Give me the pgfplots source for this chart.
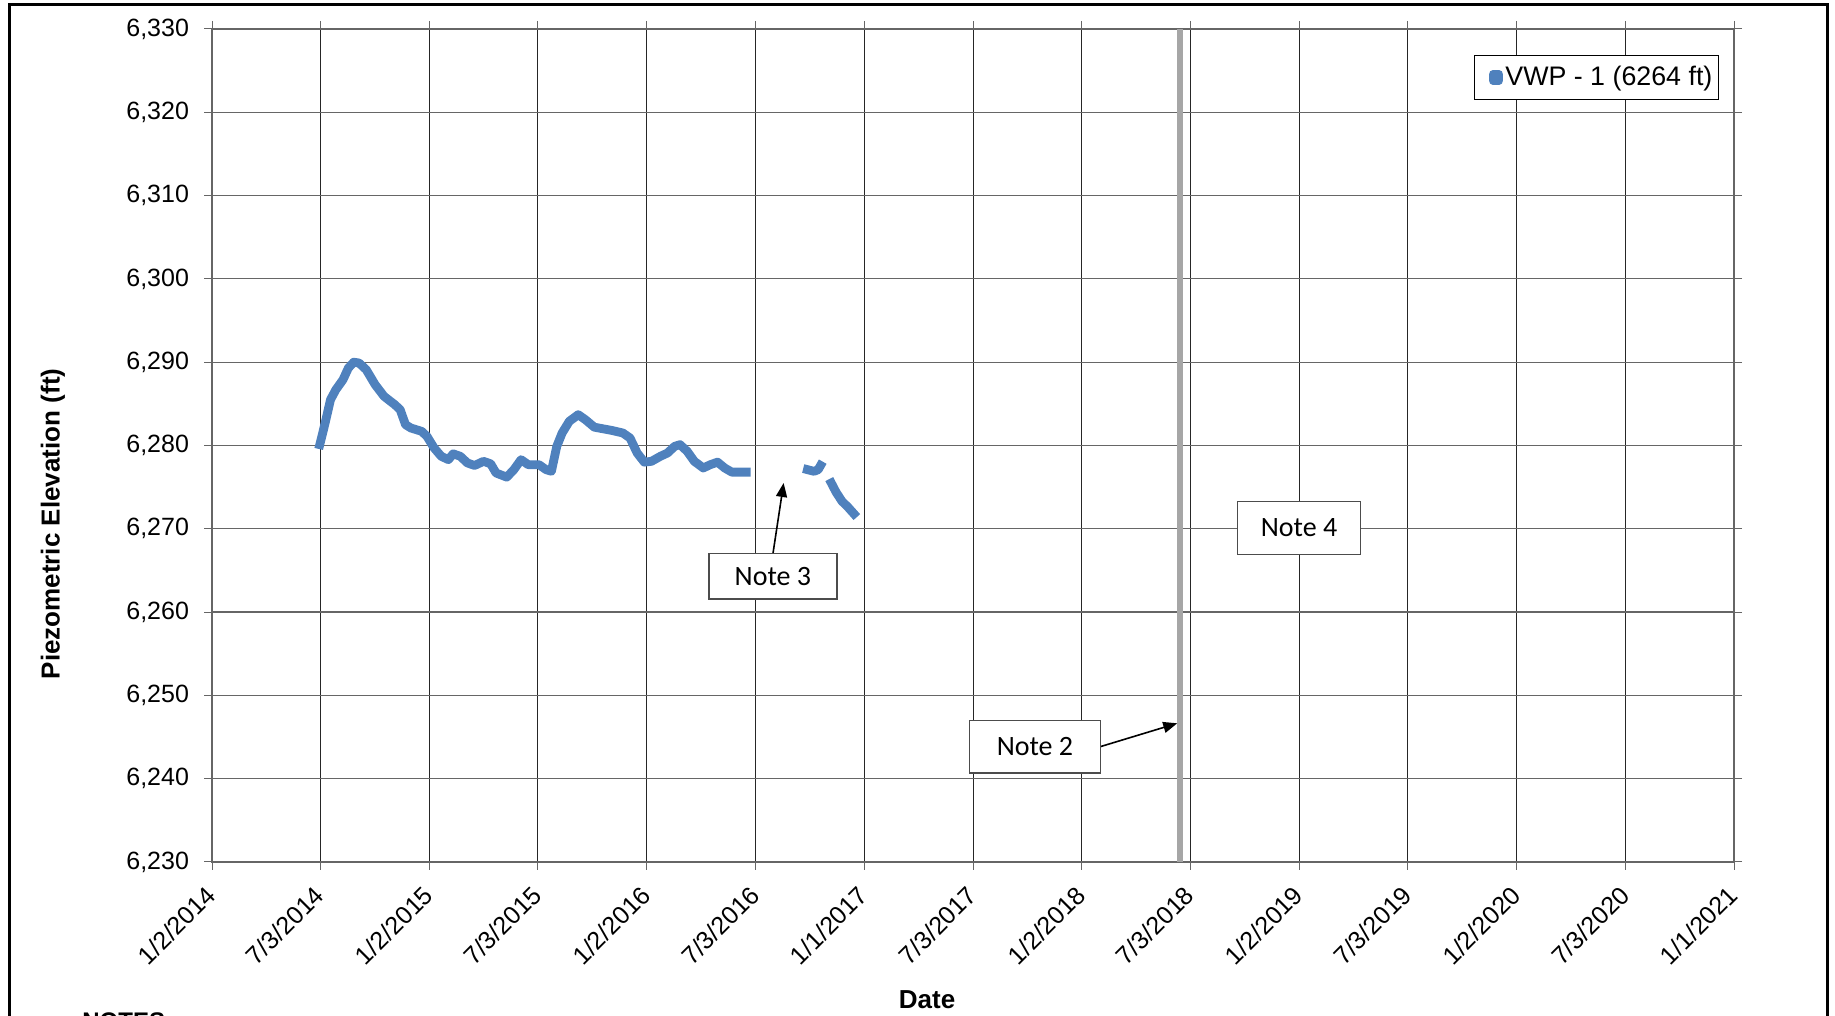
\documentclass[border=0pt]{standalone}
\usepackage{pgfplots}
\pgfplotsset{compat=1.18}
\usetikzlibrary{arrows.meta}
\usepackage{fontspec}
\setmainfont{Liberation Sans}
\newfontfamily\notefont{Carlito}
\definecolor{vwp}{HTML}{4F81BD}
\definecolor{note2line}{HTML}{A6A6A6}
\pgfplotstableread{
d v
181 6280.1
190 6282.7
199 6285.5
208 6286.7
220 6287.9
229 6289.3
238 6290.0
247 6289.9
259 6289.1
274 6287.3
289 6285.9
307 6284.9
316 6284.3
325 6282.5
334 6282.1
352 6281.7
361 6281.1
373 6279.7
385 6278.7
397 6278.3
405 6279.0
417 6278.7
429 6277.9
441 6277.6
456 6278.1
468 6277.8
477 6276.7
495 6276.2
507 6277.1
519 6278.3
531 6277.7
549 6277.7
561 6277.1
570 6276.9
579 6279.9
588 6281.5
600 6282.9
615 6283.7
627 6283.1
642 6282.2
657 6282.0
672 6281.8
690 6281.5
702 6280.9
714 6279.1
726 6278.0
738 6278.1
753 6278.7
765 6279.1
777 6279.9
786 6280.1
798 6279.3
810 6278.1
825 6277.3
837 6277.7
849 6278.0
861 6277.3
873 6276.8
897 6276.8
}\segA
\pgfplotstableread{
d v
1000 6277.1
1011 6276.9
1018 6277.1
1022 6277.6
}\segB
\pgfplotstableread{
d v
1040 6275.5
1048 6274.4
1058 6273.3
1068 6272.6
1078 6271.8
}\segC
\begin{document}
\begin{tikzpicture}
\path[use as bounding box] (0,0) rectangle (917.5pt,508pt);
\draw[line width=1.5pt] (4.75pt,-10pt) -- (4.75pt,505.5pt) -- (913.5pt,505.5pt) -- (913.5pt,-10pt);
\node[anchor=north west, font=\bfseries\fontsize{12}{14}\selectfont, inner sep=0pt] at (41pt,2pt) {NOTES:};
\begin{axis}[
  at={(106pt,77pt)}, anchor=south west, scale only axis,
  width=761pt, height=416.5pt,
  xmin=0, xmax=2556, ymin=6230, ymax=6330,
  xtick={0,182,365,547,730,913,1095,1278,1461,1643,1826,2008,2191,2374,2556},
  xticklabels={1/2/2014,7/3/2014,1/2/2015,7/3/2015,1/2/2016,7/3/2016,1/1/2017,7/3/2017,1/2/2018,7/3/2018,1/2/2019,7/3/2019,1/2/2020,7/3/2020,1/1/2021},
  ytick={6230,6240,6250,6260,6270,6280,6290,6300,6310,6320,6330},
  yticklabels={{6,230},{6,240},{6,250},{6,260},{6,270},{6,280},{6,290},{6,300},{6,310},{6,320},{6,330}},
  /pgf/number format/assume math mode=true,
  tick align=outside, major tick length=4pt,
  tick style={black!60, line width=0.5pt},
  axis line style={black!60, line width=0.6pt},
  grid=major,
  x grid style={black!85, line width=0.5pt},
  y grid style={black!60, line width=0.6pt},
  ticklabel style={font=\fontsize{12.5}{14}\selectfont},
  yticklabel style={xshift=-4pt},
  xticklabel style={anchor=east, xshift=2pt, yshift=-8pt, rotate=45},
  xlabel={Date},
  xlabel style={font=\bfseries\fontsize{13}{15}\selectfont, at={(axis description cs:0.4698,-0.1657)}, anchor=center},
  ylabel={Piezometric Elevation (ft)},
  ylabel style={font=\bfseries\fontsize{13}{15}\selectfont, at={(axis description cs:-0.1045,0.4058)}, anchor=center},
  clip=false,
  legend style={at={(0.990,0.969)}, anchor=north east, draw=black, fill=white,
    font=\fontsize{13.4}{15}\selectfont, inner xsep=2pt, inner ysep=4.5pt,
    nodes={inner sep=1pt}, /tikz/every even column/.append style={column sep=3.5pt}},
  legend image code/.code={\path (0pt,0pt); \fill[vwp] (5pt,-1.5pt) rectangle (8pt,1.5pt);},
]
\addplot[note2line, line width=3pt, forget plot] coordinates {(1626,6230) (1626,6330)};
\addplot[vwp, line width=4.4pt, line join=round, line cap=rect] table[x=d,y=v] {\segA};
\addlegendentry{VWP - 1 (6264 ft)}
\addplot[vwp, line width=4.4pt, line join=round, line cap=rect, forget plot] table[x=d,y=v] {\segB};
\addplot[vwp, line width=4.4pt, line join=round, line cap=rect, forget plot] table[x=d,y=v] {\segC};
\draw[-{Triangle[length=7pt,width=5.5pt]}, line width=0.8pt] (axis cs:942,6267.0) -- (axis cs:960,6275.5);
\draw[-{Triangle[length=7pt,width=5.5pt]}, line width=0.8pt] (axis cs:1492,6243.85) -- (axis cs:1621,6246.65);
\node[draw=black!70, fill=white, line width=0.6pt, minimum width=64pt, minimum height=22.8pt, inner sep=0pt, font=\notefont\fontsize{14}{16}\selectfont] at (axis cs:942,6264.3) {Note 3};
\node[draw=black!70, fill=white, line width=0.6pt, minimum width=65.5pt, minimum height=26.3pt, inner sep=0pt, font=\notefont\fontsize{14}{16}\selectfont] at (axis cs:1382,6243.85) {Note 2};
\node[draw=black!70, fill=white, line width=0.6pt, minimum width=61.3pt, minimum height=26.3pt, inner sep=0pt, font=\notefont\fontsize{14}{16}\selectfont] at (axis cs:1825.5,6270.1) {Note 4};
\end{axis}
\end{tikzpicture}
\end{document}
